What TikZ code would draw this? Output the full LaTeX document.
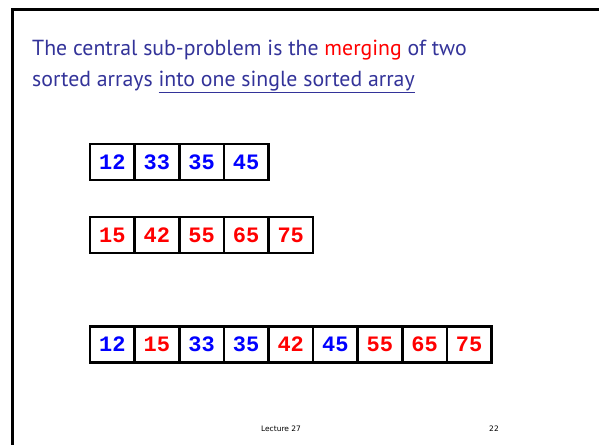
\documentclass[tikz,border=0pt]{standalone}
\usepackage{fontspec}
\usepackage{xcolor}
\setmainfont{PT Sans}
\setmonofont{Liberation Mono}
\newfontfamily\footfont{DejaVu Sans}
\usetikzlibrary{positioning}
\definecolor{slideblue}{HTML}{333399}
\definecolor{keyblue}{HTML}{0000FF}
\definecolor{keyred}{HTML}{FF0000}

\tikzset{
 cell/.style={draw,line width=2.6pt,minimum width=44.6pt,minimum height=36pt,
   inner sep=0pt,font=\fontsize{22}{22}\selectfont\ttfamily\bfseries},
 headline/.style={anchor=base west,inner sep=0pt,text=slideblue,
   font=\fontsize{21.8}{22}\selectfont},
 foot/.style={anchor=base,inner sep=0pt,font=\footfont\fontsize{7.5}{7.5}\selectfont}
}

\begin{document}
\begin{tikzpicture}[x=1pt,y=-1pt]
 \useasboundingbox (0,0) rectangle (599,445);
 % slide frame, cut at the right and bottom
 \draw[line width=3pt] (599,9.5) -- (12.5,9.5) -- (12.5,445);
 \node[headline] (title1) at (32,55) {The central sub-problem is the \textcolor{keyred}{merging} of two};
 \node[headline] (title2) at (32,86) {sorted arrays \underline{into one single sorted array}};
 % first sorted array
 \foreach \v [count=\i from 0] in {12,33,35,45}
  \node[cell,text=keyblue] (a\i) at (90+44.6*\i+22.3,162) {\v};
 % second sorted array
 \foreach \v [count=\i from 0] in {15,42,55,65,75}
  \node[cell,text=keyred] (b\i) at (90+44.6*\i+22.3,235) {\v};
 % merged result
 \foreach \v/\c [count=\i from 0] in {12/keyblue,15/keyred,33/keyblue,35/keyblue,42/keyred,45/keyblue,55/keyred,65/keyred,75/keyred}
  \node[cell,text=\c] (m\i) at (90+44.6*\i+22.3,344.5) {\v};
 \node[foot] (lect) at (281,431) {Lecture 27};
 \node[foot] (page) at (494,431) {22};
\end{tikzpicture}
\end{document}
